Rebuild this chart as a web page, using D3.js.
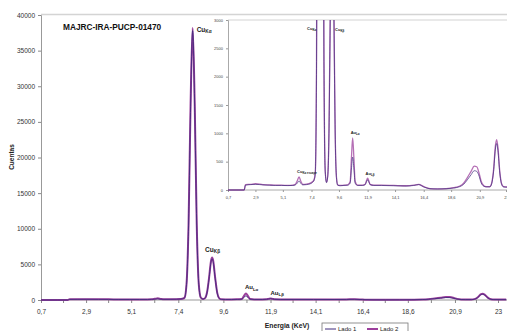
<!DOCTYPE html>
<html>
<head>
<meta charset="utf-8">
<script src="https://cdn.jsdelivr.net/npm/d3@7"></script>
<style>
  html, body { margin: 0; padding: 0; background: #fff; }
  svg { display: block; font-family: "Liberation Sans", Arial, sans-serif; }
</style>
</head>
<body>
<svg id="chart" width="507" height="331"></svg>
<script>
// espectro EDXRF, dos lados de la pieza
const energia = [
  0.7, 1.5, 2.0, 2.1, 2.5, 2.9, 3.5, 4.0, 4.5, 5.0,
  5.5, 5.9, 6.1, 6.25, 6.4, 6.55, 6.7, 7.0, 7.3, 7.5,
  7.6, 7.7, 7.8, 7.9, 8.0, 8.1, 8.2, 8.3, 8.4, 8.5,
  8.6, 8.7, 8.8, 8.9, 9.0, 9.05, 9.1, 9.2, 9.3, 9.4,
  9.5, 9.7, 10.0, 10.3, 10.5, 10.6, 10.7, 10.8, 10.9, 11.1,
  11.5, 11.7, 11.8, 11.9, 12.0, 12.1, 12.4, 13.0, 14.0, 15.0,
  15.6, 16.0, 16.4, 16.9, 17.5, 18.2, 18.8, 19.3, 19.6, 19.9,
  20.2, 20.45, 20.65, 20.85, 21.0, 21.2, 21.4, 21.7, 21.85, 22.0,
  22.15, 22.25, 22.35, 22.5, 22.65, 22.8, 23.0, 23.4
];

const lado1 = [
  0, 0, 0, 85, 95, 100, 90, 85, 80, 80,
  78, 80, 90, 120, 160, 115, 90, 95, 110, 140,
  170, 290, 2150, 10400, 27200, 37800, 27200, 10400, 2150, 320,
  130, 240, 1000, 3000, 5400, 5800, 5400, 3000, 970, 220,
  85, 75, 80, 85, 120, 370, 580, 370, 120, 80,
  80, 95, 140, 180, 140, 95, 80, 80, 75, 70,
  80, 95, 55, 22, 18, 22, 35, 60, 100, 180,
  270, 340, 330, 240, 130, 70, 55, 55, 110, 320,
  720, 820, 700, 300, 100, 55, 50, 50
];

const lado2 = [
  0, 0, 0, 95, 100, 110, 95, 90, 85, 85,
  80, 85, 100, 160, 230, 150, 100, 105, 120, 150,
  180, 300, 2200, 10600, 27600, 38200, 27600, 10600, 2200, 330,
  140, 250, 1050, 3100, 5550, 5950, 5550, 3100, 1000, 230,
  90, 80, 85, 90, 150, 560, 920, 560, 150, 85,
  85, 100, 160, 210, 160, 100, 85, 85, 80, 75,
  85, 100, 60, 25, 20, 25, 40, 70, 120, 220,
  330, 420, 410, 290, 160, 80, 60, 60, 120, 350,
  780, 890, 760, 330, 110, 60, 55, 55
];

const tickValues = [0.7, 2.9, 5.1, 7.4, 9.6, 11.9, 14.1, 16.4, 18.6, 20.9, 23];
const tickLabels = ["0,7", "2,9", "5,1", "7,4", "9,6", "11,9", "14,1", "16,4", "18,6", "20,9", "23"];
const yTicksMain = [0, 5000, 10000, 15000, 20000, 25000, 30000, 35000, 40000];
const yTicksInset = [0, 500, 1000, 1500, 2000, 2500, 3000];

const seriesNames = ["Lado 1", "Lado 2"];
const COLORS = { "Lado 1": "#3f2a7c", "Lado 2": "#9c3f9c" };

// picos rotulados
const picosMain = [
  { el: "Cu", sub: "Kα", e: 8.1, c: 38200 },
  { el: "Cu", sub: "Kβ", e: 9.05, c: 5950 },
  { el: "Au", sub: "Lα", e: 10.7, c: 920 },
  { el: "Au", sub: "Lβ", e: 11.9, c: 210 }
];
const picosInset = [
  { el: "Cu", sub: "Kα", e: 8.1, c: 3000 },
  { el: "Cu", sub: "Kβ", e: 9.05, c: 3000 },
  { el: "Cu", sub: "Kα escape", e: 6.4, c: 230 },
  { el: "Au", sub: "Lα", e: 10.7, c: 920 },
  { el: "Au", sub: "Lβ", e: 11.9, c: 210 }
];

const svg = d3.select("#chart");
const datos = seriesNames.map(name => ({
  name,
  values: energia.map((e, i) => ({ e, c: (name === "Lado 1" ? lado1 : lado2)[i] }))
}));

function label(g, p, x, y, size, anchor) {
  const t = g.append("text")
    .attr("x", x).attr("y", y)
    .attr("font-size", size)
    .attr("font-weight", "bold")
    .attr("fill", "#222")
    .attr("text-anchor", anchor || "start");
  t.append("tspan").text(p.el);
  t.append("tspan")
    .attr("font-size", size * 0.72)
    .attr("dy", size * 0.25)
    .text(p.sub);
}

// ---------- grafico principal ----------
const x = d3.scaleLinear().domain([0.7, 23]).range([41, 498]);
const y = d3.scaleLinear().domain([0, 40000]).range([300, 15]);

svg.append("line").attr("x1", 41).attr("x2", 507).attr("y1", 14.5).attr("y2", 14.5)
  .attr("stroke", "#d4d4d4").attr("stroke-width", 1.5);

const yAxis = svg.append("g").attr("transform", "translate(41,0)")
  .call(d3.axisLeft(y).tickValues(yTicksMain).tickSize(3).tickFormat(d => d));
yAxis.select(".domain").attr("stroke", "#999");
yAxis.selectAll(".tick line").attr("stroke", "#888");
yAxis.selectAll("text").attr("font-size", 6.5).attr("fill", "#333").attr("font-family", "Liberation Sans, Arial");

const minorMain = tickValues.slice(0, -1).map((v, i) => (v + tickValues[i + 1]) / 2);
const xAxis = svg.append("g").attr("transform", "translate(0,300)")
  .call(d3.axisBottom(x).tickValues(tickValues).tickSize(3).tickPadding(6)
    .tickFormat((d, i) => tickLabels[i]));
xAxis.select(".domain").attr("d", "M41,0H507").attr("stroke", "#999");
xAxis.selectAll(".tick line").attr("stroke", "#888");
xAxis.selectAll("text").attr("font-size", 6.5).attr("fill", "#333").attr("font-family", "Liberation Sans, Arial");
xAxis.selectAll(".minor").data(minorMain).enter().append("line")
  .attr("x1", d => x(d)).attr("x2", d => x(d)).attr("y1", 0).attr("y2", 3)
  .attr("stroke", "#888");

const lineMain = d3.line().x(d => x(d.e)).y(d => y(d.c)).curve(d3.curveMonotoneX);
svg.append("g").selectAll("path")
  .data(datos.slice().reverse())
  .enter().append("path")
  .attr("d", d => lineMain(d.values))
  .attr("fill", "none")
  .attr("stroke", d => COLORS[d.name])
  .attr("stroke-width", d => d.name === "Lado 2" ? 2 : 0.9)
  .attr("stroke-linejoin", "round");

const labMain = svg.append("g");
label(labMain, picosMain[0], x(picosMain[0].e) + 4, y(picosMain[0].c) + 4, 6.5);
label(labMain, picosMain[1], x(picosMain[1].e) - 7, y(picosMain[1].c) - 6, 6.5);
label(labMain, picosMain[2], x(picosMain[2].e) - 1, y(picosMain[2].c) - 4, 6);
label(labMain, picosMain[3], x(picosMain[3].e), y(picosMain[3].c) - 4, 6);

svg.append("text").attr("x", 63).attr("y", 30)
  .attr("font-size", 8.3).attr("font-weight", "bold").attr("fill", "#111")
  .text("MAJRC-IRA-PUCP-01470");

svg.append("text").attr("transform", "translate(14,157) rotate(-90)")
  .attr("text-anchor", "middle").attr("font-size", 6.5).attr("font-weight", "bold").attr("fill", "#222")
  .text("Cuentas");

svg.append("text").attr("x", 287).attr("y", 328)
  .attr("text-anchor", "middle").attr("font-size", 6.8).attr("font-weight", "bold").attr("fill", "#222")
  .text("Energia (KeV)");

// ---------- recuadro (zoom 0-3000) ----------
const xi = d3.scaleLinear().domain([0.7, 23]).range([228, 506]);
const yi = d3.scaleLinear().domain([0, 3000]).range([190, 20]);
const inset = svg.append("g");

inset.append("rect").attr("x", 213).attr("y", 16.5).attr("width", 294).attr("height", 190).attr("fill", "#fff");
inset.append("line").attr("x1", 228).attr("x2", 507).attr("y1", 20).attr("y2", 20)
  .attr("stroke", "#d4d4d4").attr("stroke-width", 1.2);

const yAxisI = inset.append("g").attr("transform", "translate(228,0)")
  .call(d3.axisLeft(yi).tickValues(yTicksInset).tickSize(2).tickPadding(3).tickFormat(d => d));
yAxisI.select(".domain").attr("stroke", "#aaa");
yAxisI.selectAll(".tick line").attr("stroke", "#999");
yAxisI.selectAll("text").attr("font-size", 4).attr("fill", "#444").attr("font-family", "Liberation Sans, Arial");

const xAxisI = inset.append("g").attr("transform", "translate(0,190)")
  .call(d3.axisBottom(xi).tickValues(tickValues).tickSize(2).tickPadding(4)
    .tickFormat((d, i) => tickLabels[i]));
xAxisI.select(".domain").attr("d", "M228,0H507").attr("stroke", "#aaa");
xAxisI.selectAll(".tick line").attr("stroke", "#999");
xAxisI.selectAll("text").attr("font-size", 4).attr("fill", "#444").attr("font-family", "Liberation Sans, Arial");

svg.append("clipPath").attr("id", "clipInset")
  .append("rect").attr("x", 228).attr("y", 20).attr("width", 279).attr("height", 171);

const lineInset = d3.line().x(d => xi(d.e)).y(d => yi(d.c)).curve(d3.curveMonotoneX);
inset.append("g").attr("clip-path", "url(#clipInset)").selectAll("path")
  .data(datos.slice().reverse())
  .enter().append("path")
  .attr("d", d => lineInset(d.values))
  .attr("fill", "none")
  .attr("stroke", d => COLORS[d.name])
  .attr("stroke-width", d => d.name === "Lado 2" ? 1.3 : 0.7)
  .attr("stroke-opacity", d => d.name === "Lado 2" ? 0.75 : 1)
  .attr("stroke-linejoin", "round");

const labInset = inset.append("g");
label(labInset, picosInset[0], xi(picosInset[0].e) - 4, yi(picosInset[0].c) + 10, 4, "end");
label(labInset, picosInset[1], xi(picosInset[1].e) + 3, yi(picosInset[1].c) + 11, 4);
label(labInset, picosInset[2], xi(picosInset[2].e) - 2, yi(picosInset[2].c) - 4, 4);
label(labInset, picosInset[3], xi(picosInset[3].e) - 2, yi(picosInset[3].c) - 4, 4);
label(labInset, picosInset[4], xi(picosInset[4].e) - 2, yi(picosInset[4].c) - 3, 4);

// ---------- leyenda ----------
const leg = svg.append("g").attr("transform", "translate(322,323)");
leg.append("rect").attr("x", 0).attr("y", 0).attr("width", 86).attr("height", 14)
  .attr("fill", "#fff").attr("stroke", "#777").attr("stroke-width", 0.8);
const items = leg.selectAll("g").data(seriesNames).enter().append("g")
  .attr("transform", (d, i) => `translate(${3 + i * 42},6)`);
items.append("line").attr("x1", 0).attr("x2", 11).attr("y1", 0).attr("y2", 0)
  .attr("stroke", d => COLORS[d]).attr("stroke-width", d => d === "Lado 2" ? 2 : 1);
items.append("text").attr("x", 13).attr("y", 2.2)
  .attr("font-size", 6).attr("fill", "#222").text(d => d);
</script>
</body>
</html>
